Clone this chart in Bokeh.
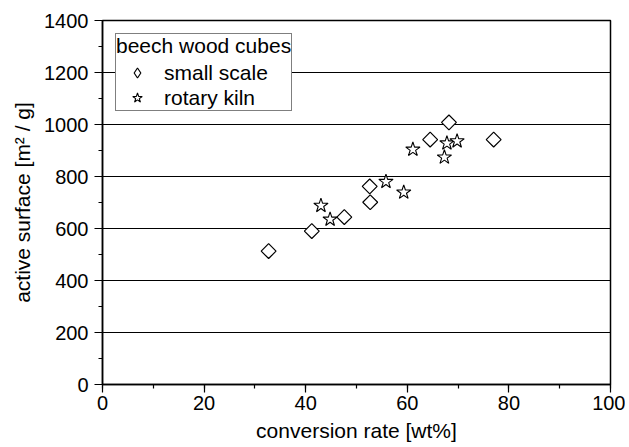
import math
from bokeh.plotting import figure
from bokeh.models import (SingleIntervalTicker, Range1d, Legend, LegendItem,
                          ColumnDataSource)
from bokeh.embed import file_html
from bokeh.resources import INLINE

# ---- data ----
small_scale_x = [32.7, 41.2, 47.6, 52.6, 52.7, 64.5, 68.2, 77.0]
small_scale_y = [513, 590, 644, 762, 701, 942, 1008, 942]
rotary_kiln_x = [43.0, 44.8, 55.8, 59.3, 61.1, 67.3, 67.8, 69.8]
rotary_kiln_y = [688, 635, 780, 739, 904, 874, 928, 936]

legend_title = "beech wood cubes"
series_labels = ["small scale", "rotary kiln"]
x_label = "conversion rate [wt%]"
y_label = "active surface [m\u00b2 / g]"

FONT = "Liberation Sans"

p = figure(width=625, height=445, output_backend="svg", toolbar_location=None,
           x_range=Range1d(0, 100), y_range=Range1d(0, 1400),
           min_border_left=102, min_border_right=15,
           min_border_top=20, min_border_bottom=61)
p.background_fill_color = "white"
p.border_fill_color = "white"
p.outline_line_color = "black"
p.outline_line_width = 1.5

# ticks
p.xaxis.ticker = SingleIntervalTicker(interval=20, num_minor_ticks=2)
p.yaxis.ticker = SingleIntervalTicker(interval=200, num_minor_ticks=2)

for ax in (p.xaxis, p.yaxis):
    ax.axis_line_color = "black"
    ax.axis_line_width = 1.5
    ax.major_tick_line_color = "black"
    ax.minor_tick_line_color = "black"
    ax.major_tick_line_width = 1.2
    ax.minor_tick_line_width = 1.2
    ax.major_tick_out = 8
    ax.major_tick_in = 0
    ax.minor_tick_out = 4
    ax.minor_tick_in = 0
    ax.major_label_text_font = FONT
    ax.major_label_text_font_size = "20px"
    ax.major_label_text_color = "black"
    ax.axis_label_text_font = FONT
    ax.axis_label_text_font_size = "21px"
    ax.axis_label_text_font_style = "normal"
    ax.axis_label_text_color = "black"

p.xaxis.axis_label = x_label
p.yaxis.axis_label = y_label
p.xaxis.major_label_standoff = 3
p.yaxis.major_label_standoff = 6
p.xaxis.axis_label_standoff = 6
p.yaxis.axis_label_standoff = 7

# grid
p.xgrid.grid_line_color = None
p.ygrid.grid_line_color = "black"
p.ygrid.grid_line_width = 1

src_small = ColumnDataSource(dict(x=small_scale_x, y=small_scale_y))
src_kiln = ColumnDataSource(dict(x=rotary_kiln_x, y=rotary_kiln_y))

r1 = p.scatter("x", "y", source=src_small, marker="square", size=10.5,
               angle=math.pi / 4, fill_color="white", line_color="black",
               line_width=1.2)
r2 = p.scatter("x", "y", source=src_kiln, marker="star", size=15,
               fill_color="white", line_color="black", line_width=1.1)

# legend-only glyph for the diamond symbol (legend glyphs are never rotated);
# a single NaN point so nothing is drawn in the plot area
r1_leg = p.scatter(x=[float("nan")], y=[float("nan")], marker="diamond",
                   size=10, fill_color="white", line_color="black",
                   line_width=1.2)

legend = Legend(items=[LegendItem(label=series_labels[0], renderers=[r1_leg]),
                       LegendItem(label=series_labels[1], renderers=[r2])],
                title=legend_title, location="top_left")
legend.margin = 13
legend.padding = 0
legend.spacing = 0
legend.glyph_width = 42
legend.glyph_height = 25
legend.label_height = 25
legend.label_standoff = 6
legend.title_standoff = 2
legend.title_text_font = FONT
legend.title_text_font_size = "21px"
legend.title_text_font_style = "normal"
legend.title_text_color = "black"
legend.label_text_font = FONT
legend.label_text_font_size = "21px"
legend.label_text_color = "black"
legend.border_line_color = "black"
legend.border_line_width = 1
legend.background_fill_color = "white"
legend.background_fill_alpha = 1
p.add_layout(legend)

open("out.html", "w").write(file_html(p, INLINE))
